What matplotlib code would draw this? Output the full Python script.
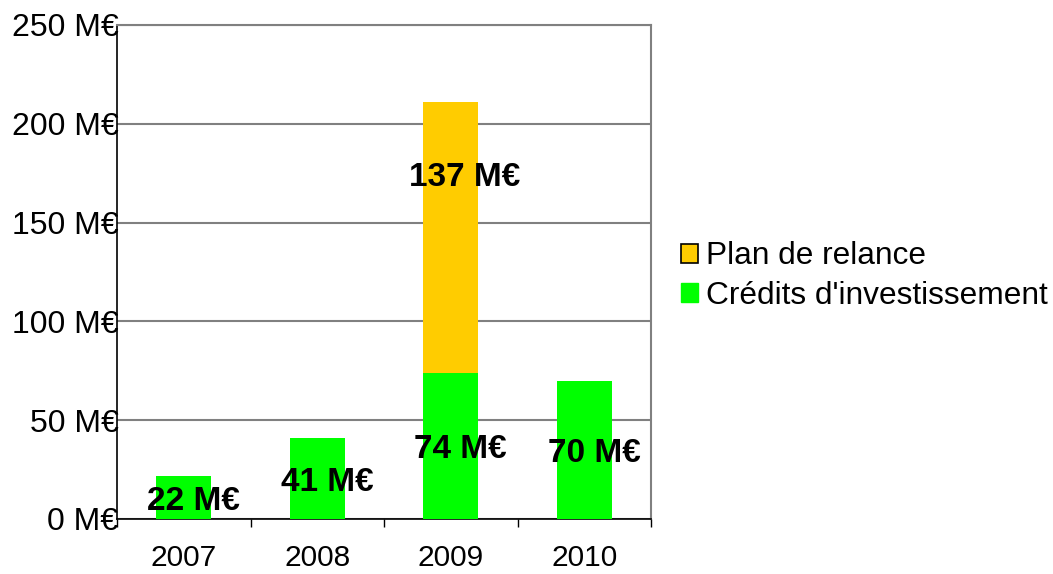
import matplotlib
matplotlib.use("Agg")
import matplotlib.pyplot as plt
from matplotlib.patches import Patch

plt.rcParams['font.family'] = ['Liberation Sans', 'DejaVu Sans']

years = ["2007", "2008", "2009", "2010"]
credits = [22, 41, 74, 70]
relance = [0, 0, 137, 0]
yticks = [0, 50, 100, 150, 200, 250]

GREEN = "#00FF00"
ORANGE = "#FFCC00"

fig = plt.figure(figsize=(10.53, 5.74), dpi=100)
ax = fig.add_axes([117/1053, 1-519/574, (651-117)/1053, (519-25)/574])

x = list(range(len(years)))
w = 0.41
ax.bar(x, credits, width=w, color=GREEN, zorder=3)
ax.bar(x, relance, width=w, bottom=credits, color=ORANGE, zorder=3)

ax.set_xlim(-0.5, len(years) - 0.5)
ax.set_ylim(0, 250)
ax.set_yticks(yticks)
ax.set_yticklabels([f"{v} M€" for v in yticks], fontsize=23)
ax.tick_params(axis='y', length=0, pad=-1)
ax.yaxis.grid(True, color="#808080", linewidth=1.5, zorder=0)
ax.set_axisbelow(True)

ax.set_xticks(x)
ax.set_xticklabels(years, fontsize=21.5)
ax.tick_params(axis='x', which='major', length=0, pad=18)
ax.set_xticks([i - 0.5 for i in range(len(years) + 1)], minor=True)
ax.tick_params(axis='x', which='minor', length=6, width=1, color='black', direction='out')

for s in ['left', 'bottom']:
    ax.spines[s].set_color('black')
    ax.spines[s].set_linewidth(1.2)
ax.spines['right'].set_color('#808080')
ax.spines['right'].set_linewidth(1.5)
ax.spines['top'].set_color('#808080')
ax.spines['top'].set_linewidth(1.5)

dx = 0.075
for i, v in enumerate(credits):
    ax.text(i + dx, v / 2 - 2, f"{v} M€", ha='center', va='center',
            fontsize=24, fontweight='bold', color='black', zorder=5)
for i, v in enumerate(relance):
    if v:
        ax.text(i + dx + 0.03, credits[i] + v * 0.72, f"{v} M€", ha='center', va='center',
                fontsize=24, fontweight='bold', color='black', zorder=5)

handles = [Patch(facecolor=ORANGE, edgecolor='black', linewidth=1.2, label="Plan de relance"),
           Patch(facecolor=GREEN, edgecolor=GREEN, label="Crédits d'investissement")]
fig.legend(handles=handles, loc='center left', bbox_to_anchor=(681/1053, 1-276/574),
           frameon=False, fontsize=22.8, handlelength=0.55, handleheight=0.55,
           handletextpad=0.25, labelspacing=0.3, borderaxespad=0, borderpad=0)

fig.savefig("out.png", dpi=100)
